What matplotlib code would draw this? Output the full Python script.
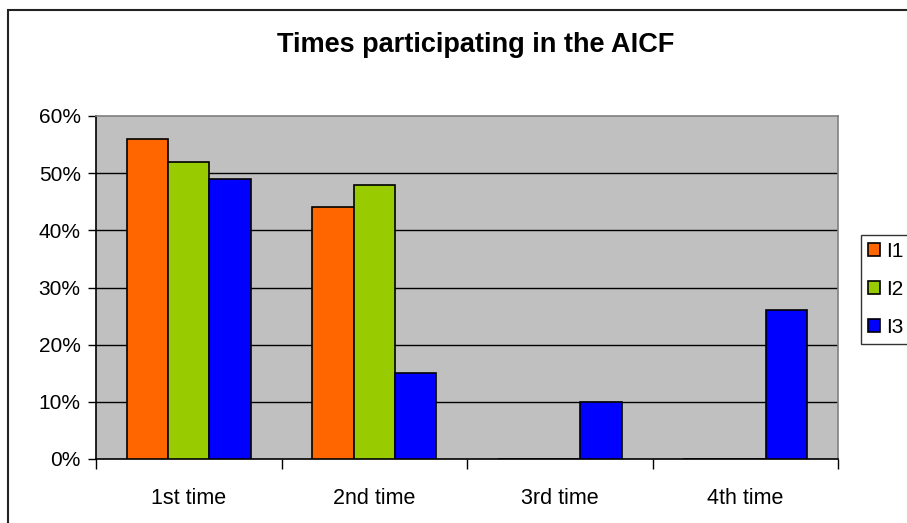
import matplotlib
matplotlib.use("Agg")
import matplotlib.pyplot as plt
from matplotlib.patches import Rectangle
from matplotlib.ticker import FuncFormatter, FixedLocator
import numpy as np

plt.rcParams['font.family'] = ['Liberation Sans', 'DejaVu Sans']

categories = ["1st time", "2nd time", "3rd time", "4th time"]
series_names = ["I1", "I2", "I3"]
i1 = [0.56, 0.44, 0.0, 0.0]
i2 = [0.52, 0.48, 0.0, 0.0]
i3 = [0.49, 0.15, 0.10, 0.26]
colors = ["#FF6600", "#99CC00", "#0000FF"]
y_ticks = [0.0, 0.1, 0.2, 0.3, 0.4, 0.5, 0.6]

W, H = 907, 523
fig = plt.figure(figsize=(W / 100, H / 100), dpi=100)
fig.patch.set_facecolor("white")

# chart frame
fig.patches.append(Rectangle((8 / W, -0.1), 1.2, 1 - 10 / H + 0.1,
                             transform=fig.transFigure, fill=False,
                             edgecolor="#222222", linewidth=1.5))

ax = fig.add_axes([96 / W, (H - 459) / H, (838 - 96) / W, (459 - 116) / H])
ax.set_facecolor("#C0C0C0")

n_series = 3
gap = 1.5
bar_w = 1.0 / (n_series + gap)
x = np.arange(len(categories)) + 0.5
for k, (vals, col, name) in enumerate(zip([i1, i2, i3], colors, series_names)):
    offs = (k - (n_series - 1) / 2) * bar_w
    ax.bar(x + offs, vals, width=bar_w, color=col, edgecolor="black",
           linewidth=1.2, label=name, zorder=3)

ax.set_xlim(0, len(categories))
ax.set_ylim(0, 0.6)

for t in y_ticks[1:-1]:
    ax.axhline(t, color="black", linewidth=1.0, zorder=1)

ax.set_yticks(y_ticks)
ax.yaxis.set_major_formatter(FuncFormatter(lambda v, p: f"{v * 100:.0f}%"))
ax.tick_params(axis="y", direction="out", length=6, width=1, labelsize=15,
               pad=5, colors="black")

ax.xaxis.set_major_locator(FixedLocator(np.arange(len(categories) + 1)))
ax.xaxis.set_minor_locator(FixedLocator(x))
ax.set_xticklabels([""] * (len(categories) + 1))
ax.set_xticklabels(categories, minor=True)
ax.tick_params(axis="x", which="major", direction="out", length=7, width=1)
ax.tick_params(axis="x", which="minor", length=0, labelsize=15.5, pad=21)

for side in ("top", "right"):
    ax.spines[side].set_color("#808080")
    ax.spines[side].set_linewidth(1.2)
for side in ("left", "bottom"):
    ax.spines[side].set_color("black")
    ax.spines[side].set_linewidth(1.2)

fig.text(476 / W, 1 - 45 / H, "Times participating in the AICF",
         ha="center", va="center", fontsize=19.5, fontweight="bold")

leg = ax.legend(loc="upper left", bbox_to_anchor=(861 / W, 1 - 235 / H),
                bbox_transform=fig.transFigure, borderaxespad=0,
                frameon=True, fancybox=False,
                edgecolor="black", fontsize=15, handlelength=0.6,
                handleheight=0.55, handletextpad=0.3, labelspacing=0.92,
                borderpad=0.32)
leg.get_frame().set_linewidth(1.0)

fig.savefig("out.png", dpi=100)
